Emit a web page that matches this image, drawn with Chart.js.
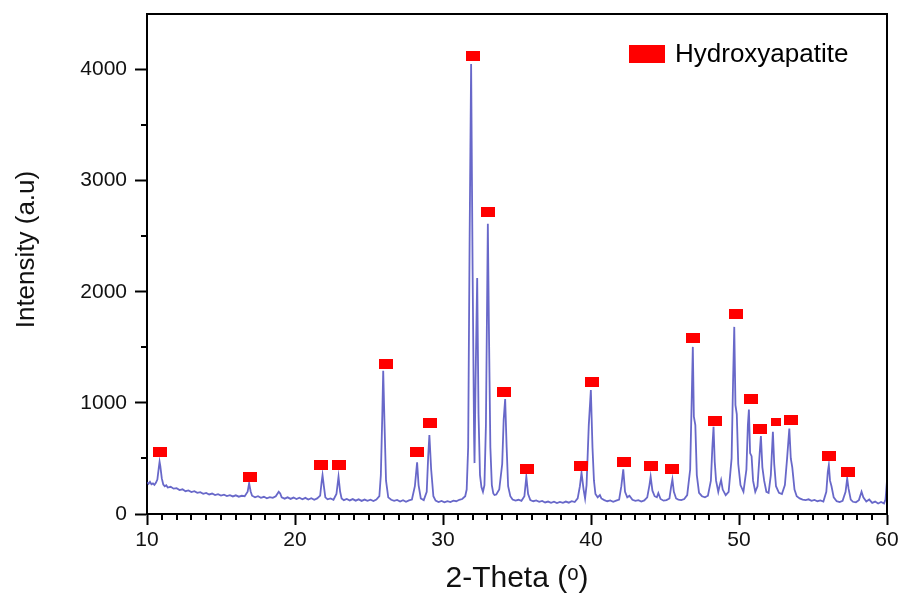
<!DOCTYPE html>
<html>
<head>
<meta charset="utf-8">
<script src="https://cdn.jsdelivr.net/npm/chart.js@4.4.1/dist/chart.umd.min.js"></script>
<style>
html, body { margin: 0; padding: 0; background: #fff; }
canvas { display: block; }
</style>
</head>
<body>
<canvas id="xrd" width="903" height="597"></canvas>
<script>
// XRD pattern
var theta = [
  10.0, 10.1, 10.2, 10.3, 10.4, 10.5, 10.6, 10.7, 10.8, 10.85, 10.9, 11.0, 11.1, 11.2, 11.3, 11.4, 11.6, 11.8,
  12.0, 12.2, 12.4, 12.6, 12.8, 13.0, 13.2, 13.4, 13.6, 13.8, 14.0, 14.2, 14.4, 14.6, 14.8,
  15.0, 15.2, 15.4, 15.6, 15.8, 16.0, 16.2, 16.4, 16.6, 16.8, 16.9, 17.0, 17.1, 17.3, 17.5, 17.7, 17.9,
  18.1, 18.3, 18.5, 18.7, 18.9, 19.0, 19.1, 19.3, 19.5, 19.7, 19.9, 20.1, 20.3, 20.5, 20.7, 20.9,
  21.1, 21.3, 21.5, 21.7, 21.8, 21.86, 21.95, 22.05, 22.2, 22.4, 22.6, 22.8, 22.94, 23.05, 23.15, 23.3,
  23.5, 23.7, 23.9, 24.1, 24.3, 24.5, 24.7, 24.9, 25.1, 25.3, 25.5, 25.7, 25.8, 25.9, 25.96, 26.05,
  26.15, 26.3, 26.5, 26.7, 26.9, 27.1, 27.3, 27.5, 27.7, 27.9, 28.1, 28.25, 28.35, 28.5, 28.7, 28.9,
  29.0, 29.08, 29.2, 29.35, 29.5, 29.7, 29.9, 30.1, 30.3, 30.5, 30.7, 30.9, 31.1, 31.3, 31.5, 31.6,
  31.7, 31.8, 31.9, 32.0, 32.1, 32.13, 32.2, 32.31, 32.4, 32.5, 32.6, 32.7, 32.8, 32.9, 33.03, 33.1,
  33.2, 33.3, 33.4, 33.48, 33.6, 33.8, 34.0, 34.1, 34.2, 34.3, 34.4, 34.55, 34.7, 34.9, 35.1, 35.3,
  35.5, 35.63, 35.75, 35.9, 36.1, 36.3, 36.5, 36.7, 36.9, 37.1, 37.3, 37.5, 37.7, 37.9, 38.1, 38.3,
  38.5, 38.7, 38.9, 39.1, 39.25, 39.36, 39.5, 39.6, 39.7, 39.85, 39.99, 40.1, 40.2, 40.3, 40.45, 40.6,
  40.7, 40.9, 41.1, 41.3, 41.5, 41.7, 41.9, 42.05, 42.18, 42.3, 42.45, 42.6, 42.8, 43.0, 43.2, 43.4,
  43.6, 43.8, 43.95, 44.03, 44.15, 44.3, 44.45, 44.55, 44.7, 44.9, 45.1, 45.3, 45.42, 45.5, 45.6, 45.75,
  45.9, 46.1, 46.3, 46.5, 46.7, 46.8, 46.88, 46.95, 47.05, 47.15, 47.3, 47.5, 47.7, 47.9, 48.1, 48.2,
  48.28, 48.36, 48.45, 48.6, 48.7, 48.79, 48.9, 49.1, 49.3, 49.5, 49.6, 49.68, 49.76, 49.85, 49.95, 50.1,
  50.3, 50.5, 50.6, 50.67, 50.75, 50.85, 50.95, 51.1, 51.25, 51.4, 51.48, 51.58, 51.7, 51.85, 52.0, 52.15,
  52.29, 52.38, 52.5, 52.7, 52.9, 53.1, 53.25, 53.4, 53.5, 53.6, 53.75, 53.9, 54.1, 54.3, 54.5, 54.7,
  54.9, 55.1, 55.3, 55.5, 55.7, 55.9, 56.0, 56.07, 56.15, 56.25, 56.4, 56.6, 56.8, 57.0, 57.2, 57.31,
  57.4, 57.55, 57.7, 57.9, 58.1, 58.28, 58.4, 58.6, 58.8, 59.0, 59.2, 59.4, 59.6, 59.8, 59.9, 60.0
];
var intensity = [
  285, 272, 290, 268, 275, 262, 280, 310, 420, 470, 430, 320, 265, 250, 258, 238, 245, 228,
  232, 215, 222, 205, 212, 198, 205, 190, 196, 182, 190, 176, 184, 170, 178,
  166, 174, 162, 170, 158, 168, 156, 164, 160, 200, 276, 205, 165, 150, 160, 146, 155,
  142, 152, 145, 160, 200, 185, 150, 138, 150, 136, 148, 134, 146, 132, 145, 130,
  142, 128, 140, 165, 290, 350, 250, 150, 132, 140, 128, 180, 335, 200, 140, 125,
  136, 122, 134, 120, 132, 118, 130, 118, 128, 116, 130, 160, 350, 900, 1288, 800,
  300, 150, 128, 118, 126, 112, 124, 110, 122, 130, 250, 465, 260, 140, 125, 200,
  520, 710, 400, 160, 120, 108, 118, 105, 116, 108, 120, 115, 128, 135, 160, 220,
  600, 2500, 4051, 2200, 700, 458, 1200, 2124, 900, 350, 240, 200, 260, 800, 2613, 1700,
  600, 260, 185, 171, 175, 220, 450, 850, 1034, 600, 250, 160, 130, 120, 128, 118,
  160, 335, 180, 125, 115, 122, 110, 118, 104, 112, 100, 110, 98, 108, 100, 112,
  102, 115, 108, 140, 250, 371, 220, 140, 260, 800, 1115, 600, 300, 180, 150, 170,
  140, 125, 115, 122, 110, 120, 130, 250, 401, 200, 150, 165, 128, 118, 125, 112,
  122, 150, 260, 335, 210, 160, 150, 188, 135, 120, 125, 140, 250, 311, 200, 140,
  130, 125, 135, 170, 400, 1000, 1504, 875, 800, 350, 190, 160, 150, 165, 300, 600,
  785, 470, 300, 200, 260, 306, 220, 170, 200, 500, 1200, 1684, 980, 900, 450, 260,
  200, 400, 800, 941, 548, 520, 300, 200, 250, 550, 701, 420, 300, 200, 190, 350,
  740, 450, 250, 190, 180, 260, 500, 770, 500, 420, 220, 160, 140, 130, 125, 132,
  118, 126, 115, 122, 112, 200, 380, 440, 300, 250, 150, 115, 108, 118, 200, 321,
  230, 130, 110, 105, 125, 200, 150, 112, 130, 100, 112, 95, 108, 95, 130, 300
];

// red markers (Hydroxyapatite reflections)
var markTheta = [10.91, 16.93, 21.75, 22.94, 26.13, 28.22, 29.13, 32.04, 33.06, 34.14, 35.68, 39.34, 40.1,
  42.25, 44.05, 45.47, 46.89, 48.4, 49.8, 50.81, 51.45, 52.49, 53.54, 56.09, 57.36];
var markIntensity = [562, 337, 445, 445, 1351, 555, 821, 4126, 2717, 1094, 404, 431, 1185,
  470, 429, 404, 1585, 836, 1798, 1036, 761, 825, 843, 520, 379];

var xTickValues = [10, 20, 30, 40, 50, 60];
var yTickValues = [0, 1000, 2000, 3000, 4000];
var legendLabel = "Hydroxyapatite";

var FONT = "'Liberation Sans', Arial, sans-serif";

function makeMark(w, h) {
  var c = document.createElement('canvas');
  c.width = w;
  c.height = h;
  var g = c.getContext('2d');
  g.fillStyle = '#ff0000';
  g.fillRect(0, 0, w, h);
  return c;
}
var bigMark = makeMark(14, 10);
var smallMark = makeMark(10, 8);

// minor ticks, top/right frame and the legend
var extras = {
  id: 'extras',
  afterDraw: function (chart) {
    var ctx = chart.ctx, a = chart.chartArea;
    var xs = chart.scales.x, ys = chart.scales.y;
    ctx.save();
    ctx.strokeStyle = '#000';
    ctx.lineWidth = 2;
    ctx.beginPath();
    for (var v = 11; v < 60; v++) {
      if (v % 10 === 0) continue;
      var px = Math.round(xs.getPixelForValue(v));
      ctx.moveTo(px, a.bottom);
      ctx.lineTo(px, a.bottom + 6);
    }
    for (var w = 500; w < 4500; w += 1000) {
      var py = Math.round(ys.getPixelForValue(w));
      ctx.moveTo(a.left - 6, py);
      ctx.lineTo(a.left, py);
    }
    ctx.moveTo(a.left, a.top);
    ctx.lineTo(a.right, a.top);
    ctx.lineTo(a.right, a.bottom);
    ctx.stroke();

    var bx = a.right - 258, by = a.top + 31;
    ctx.fillStyle = '#ff0000';
    ctx.fillRect(bx, by, 36, 18);
    ctx.fillStyle = '#000';
    ctx.font = '26px ' + FONT;
    ctx.textBaseline = 'middle';
    ctx.fillText(legendLabel, bx + 46, by + 10);
    ctx.restore();
  }
};

var chart = new Chart(document.getElementById('xrd'), {
  type: 'line',
  data: {
    datasets: [{
      label: legendLabel,
      type: 'scatter',
      data: markTheta.map(function (t, i) { return { x: t, y: markIntensity[i] }; }),
      pointStyle: markTheta.map(function (t, i) { return i === 21 ? smallMark : bigMark; }),
      pointRadius: 5,
      order: 0
    }, {
      label: 'XRD',
      data: theta.map(function (t, i) { return { x: t, y: intensity[i] }; }),
      borderColor: 'rgba(78, 78, 192, 0.85)',
      borderWidth: 1.8,
      pointRadius: 0,
      tension: 0,
      fill: false,
      order: 1
    }]
  },
  options: {
    responsive: false,
    animation: false,
    devicePixelRatio: 1,
    layout: { padding: { left: 0, top: 14, right: 16, bottom: 0 } },
    plugins: {
      legend: { display: false },
      tooltip: { enabled: false }
    },
    scales: {
      x: {
        type: 'linear',
        min: 10,
        max: 60,
        afterBuildTicks: function (s) { s.ticks = xTickValues.map(function (v) { return { value: v }; }); },
        afterFit: function (s) { s.height = 83; s.paddingLeft = 0; s.paddingRight = 0; },
        ticks: {
          color: '#111',
          font: { family: FONT, size: 21 },
          padding: 3,
          maxRotation: 0,
          callback: function (v) { return String(v); }
        },
        grid: { drawOnChartArea: false, tickLength: 11, tickWidth: 2, tickColor: '#000' },
        border: { color: '#000', width: 2 },
        title: {
          display: true,
          text: '2-Theta (\u1d52)',
          color: '#111',
          font: { family: FONT, size: 30, lineHeight: 1.2 },
          padding: { top: 0, bottom: 0 }
        }
      },
      y: {
        type: 'linear',
        min: 0,
        max: 4500,
        afterBuildTicks: function (s) { s.ticks = yTickValues.map(function (v) { return { value: v }; }); },
        afterFit: function (s) { s.width = 147; s.paddingTop = 0; s.paddingBottom = 0; },
        ticks: {
          color: '#111',
          font: { family: FONT, size: 21 },
          padding: 8,
          callback: function (v) { return String(v); }
        },
        grid: { drawOnChartArea: false, tickLength: 12, tickWidth: 2, tickColor: '#000' },
        border: { color: '#000', width: 2 },
        title: {
          display: true,
          text: '\u00a0\u00a0\u00a0\u00a0Intensity (a.u)',
          color: '#111',
          font: { family: FONT, size: 26, lineHeight: 1.2 },
          padding: { top: 11, bottom: 0 }
        }
      }
    }
  },
  plugins: [extras]
});
</script>
</body>
</html>
